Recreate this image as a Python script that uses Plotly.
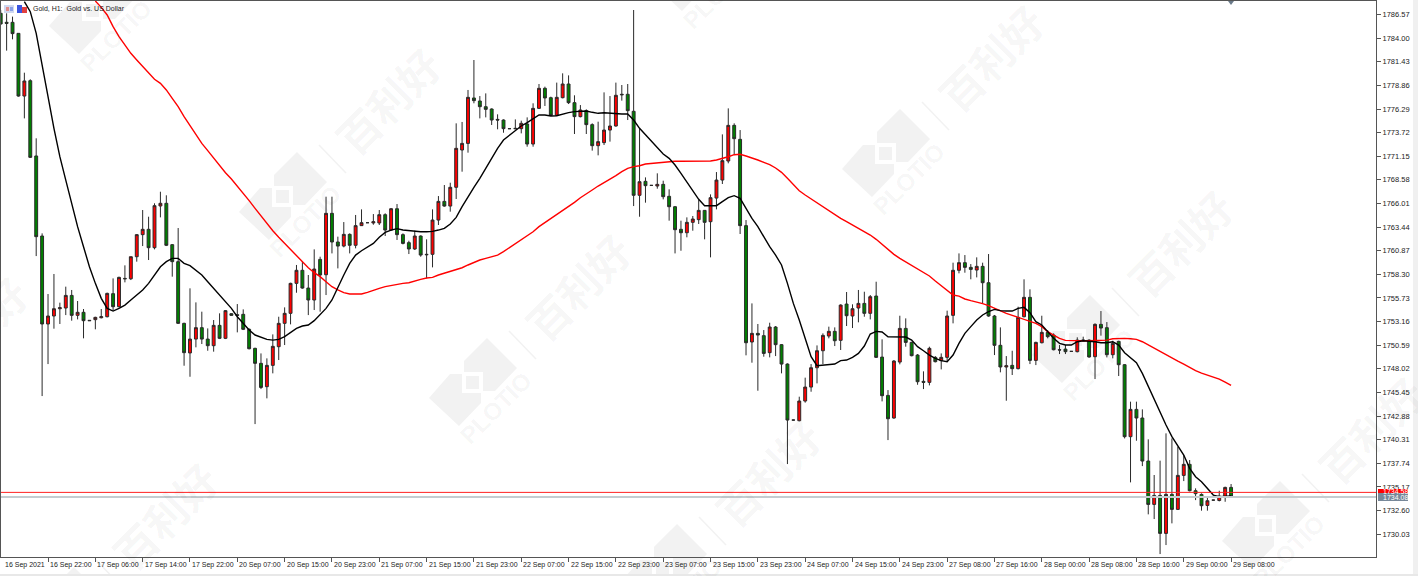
import plotly.graph_objects as go

bar_index = list(range(209))
opens = [
1786.70,1785.72,1785.72,1784.52,1777.70,1779.37,1771.18,1762.47,1752.90,1753.77,
1754.56,1754.64,1756.01,1753.84,1754.17,1753.30,1753.37,1753.58,1753.69,1756.20,
1754.78,1757.86,1757.82,1760.22,1762.62,1763.20,1761.20,1765.74,1766.03,1761.53,
1759.68,1752.97,1749.75,1751.26,1752.50,1751.26,1750.54,1752.75,1751.34,1754.02,
1753.91,1753.95,1752.32,1750.25,1748.62,1746.08,1748.40,1750.43,1752.97,1754.06,
1757.32,1758.74,1756.81,1755.51,1759.93,1758.26,1764.94,1761.82,1761.38,1762.65,
1761.46,1763.60,1763.92,1763.89,1763.89,1764.79,1763.12,1765.44,1762.62,1761.75,
1761.06,1762.47,1760.48,1760.48,1764.21,1766.24,1765.73,1767.77,1771.83,1772.55,
1777.49,1777.16,1776.54,1776.29,1775.16,1775.09,1774.15,1774.19,1774.15,1774.66,
1772.48,1776.36,1778.54,1777.52,1775.60,1777.52,1779.01,1776.98,1775.46,1776.11,
1774.59,1772.30,1772.63,1774.00,1774.44,1777.82,1777.89,1776.04,1766.90,1768.42,
1767.98,1767.91,1768.09,1766.79,1765.66,1763.20,1762.83,1763.96,1764.25,1765.26,
1764.03,1766.60,1768.56,1770.63,1774.51,1772.99,1763.60,1750.94,1751.88,1751.63,
1749.78,1752.57,1750.65,1748.54,1742.45,1742.38,1744.52,1746.04,1748.14,1749.99,
1751.59,1752.10,1751.12,1755.07,1753.77,1754.64,1755.14,1754.06,1755.94,1749.30,
1745.13,1742.67,1748.76,1752.42,1750.90,1749.52,1746.66,1746.55,1749.27,1748.91,
1749.27,1753.84,1758.74,1759.57,1759.06,1758.77,1759.17,1757.39,1753.77,1750.58,
1748.22,1748.40,1748.04,1753.69,1755.80,1748.94,1750.86,1751.99,1751.70,1750.10,
1750.17,1749.92,1749.89,1751.07,1751.15,1749.34,1752.86,1752.50,1749.56,1751.01,
1748.47,1740.64,1743.61,1742.67,1737.99,1733.27,1734.25,1730.12,1734.36,1732.73,
1736.43,1737.63,1734.76,1734.36,1733.16,1733.74,1733.70,1734.11,1735.12]
highs = [
1787.06,1786.70,1786.34,1784.52,1780.24,1779.52,1773.10,1762.76,1756.16,1758.34,
1755.22,1756.96,1756.60,1755.40,1754.53,1753.33,1753.69,1754.53,1756.31,1757.86,
1758.05,1759.28,1760.22,1762.69,1765.30,1764.57,1766.03,1767.29,1766.90,1761.60,
1763.34,1753.04,1756.78,1755.25,1754.24,1752.42,1753.33,1754.06,1754.42,1754.06,
1755.07,1754.49,1752.42,1750.32,1749.70,1749.16,1751.77,1753.69,1754.71,1757.39,
1759.32,1759.75,1758.23,1761.02,1760.22,1766.75,1766.75,1762.40,1763.99,1762.76,
1764.76,1765.37,1763.96,1764.86,1765.30,1764.94,1765.52,1765.95,1762.76,1761.96,
1763.05,1762.54,1762.11,1765.37,1766.82,1768.02,1768.27,1774.73,1774.88,1778.36,
1781.62,1777.70,1777.99,1776.36,1775.71,1775.16,1774.19,1775.16,1775.02,1775.38,
1776.91,1779.01,1778.72,1777.63,1779.16,1780.17,1779.95,1777.78,1776.72,1776.25,
1774.73,1774.91,1778.10,1777.70,1779.16,1778.90,1779.01,1787.06,1774.19,1768.85,
1768.02,1769.29,1768.49,1767.55,1765.74,1764.14,1764.50,1764.65,1766.39,1765.30,
1767.00,1769.43,1773.53,1776.36,1774.73,1774.00,1764.21,1755.14,1752.90,1752.24,
1753.04,1752.68,1750.72,1748.62,1742.49,1744.99,1747.06,1748.54,1750.57,1751.88,
1752.61,1752.53,1755.04,1756.38,1755.04,1756.60,1756.41,1756.05,1757.50,1751.23,
1745.71,1748.98,1753.80,1753.51,1750.97,1749.63,1747.75,1750.43,1749.41,1749.70,
1754.35,1759.57,1760.58,1760.40,1759.42,1760.15,1759.57,1760.51,1753.88,1752.53,
1749.41,1749.99,1754.78,1757.76,1756.67,1750.97,1753.80,1752.24,1751.88,1750.61,
1750.61,1749.96,1751.45,1751.52,1751.23,1752.97,1754.31,1753.11,1751.08,1751.08,
1748.54,1744.45,1744.45,1743.61,1740.35,1736.47,1738.03,1741.00,1740.45,1739.55,
1738.64,1738.10,1735.02,1734.47,1734.11,1733.78,1734.76,1735.20,1735.49]
lows = [
1785.43,1782.64,1783.87,1777.63,1775.27,1770.96,1760.29,1745.06,1748.54,1752.39,
1752.90,1753.87,1753.26,1753.40,1751.34,1753.26,1752.32,1753.51,1753.62,1754.42,
1754.71,1757.43,1757.68,1759.68,1761.38,1759.86,1761.02,1764.50,1761.38,1758.05,
1752.90,1748.36,1747.16,1750.36,1750.72,1749.99,1749.89,1751.26,1751.26,1753.80,
1751.99,1752.24,1750.14,1742.01,1745.82,1744.81,1747.53,1748.98,1750.61,1752.86,
1756.30,1756.74,1753.87,1754.42,1754.24,1756.05,1760.58,1758.95,1761.24,1760.58,
1761.13,1763.56,1763.89,1763.70,1763.67,1762.47,1763.05,1762.04,1761.56,1760.51,
1760.95,1760.22,1757.86,1759.06,1763.67,1765.66,1765.12,1766.50,1769.47,1771.54,
1776.91,1775.27,1775.38,1774.55,1774.08,1773.71,1774.11,1774.08,1773.64,1772.19,
1772.19,1776.29,1776.62,1775.53,1775.53,1777.45,1776.83,1773.57,1775.38,1773.57,
1771.76,1771.25,1772.37,1772.74,1774.37,1777.20,1775.09,1765.73,1764.57,1766.10,
1767.95,1767.62,1766.46,1764.14,1760.58,1760.87,1762.33,1763.05,1763.78,1762.11,
1760.15,1765.37,1768.13,1770.38,1771.28,1762.69,1749.49,1748.69,1745.64,1749.34,
1749.27,1749.41,1747.53,1737.66,1742.41,1742.31,1744.34,1745.53,1746.44,1748.54,
1751.34,1750.50,1750.07,1752.68,1752.46,1753.08,1753.69,1753.40,1749.20,1744.48,
1740.27,1742.59,1748.51,1750.43,1749.38,1746.29,1745.82,1746.22,1748.72,1747.96,
1748.76,1752.97,1758.41,1758.48,1757.76,1757.97,1755.14,1753.69,1749.52,1747.64,
1744.55,1747.35,1747.96,1753.62,1748.54,1748.43,1750.79,1751.34,1750.03,1749.63,
1749.63,1749.89,1749.81,1751.04,1749.23,1746.91,1751.63,1749.27,1749.16,1747.24,
1740.45,1735.67,1740.20,1737.44,1732.19,1731.68,1727.87,1728.85,1731.21,1732.66,
1735.81,1734.69,1733.74,1732.59,1732.59,1733.70,1733.60,1733.56,1734.04]
closes = [
1785.54,1785.61,1784.49,1777.70,1779.34,1771.03,1762.40,1752.90,1753.77,1754.56,
1754.67,1756.01,1753.84,1754.17,1753.26,1753.26,1753.62,1753.69,1756.23,1754.78,
1757.97,1757.82,1760.22,1762.62,1763.20,1761.20,1765.77,1766.03,1761.46,1759.68,
1752.97,1749.78,1751.26,1752.50,1751.26,1750.54,1752.75,1751.34,1754.35,1753.84,
1753.84,1752.32,1750.21,1748.62,1746.00,1748.40,1750.47,1752.97,1754.06,1757.32,
1758.74,1756.81,1755.51,1758.88,1758.23,1764.94,1761.82,1761.38,1762.65,1761.46,
1763.60,1763.92,1763.92,1764.03,1764.79,1763.12,1765.44,1762.62,1761.67,1761.06,
1762.47,1760.40,1760.44,1764.21,1766.24,1765.73,1767.77,1772.01,1772.55,1777.56,
1777.20,1776.54,1776.25,1775.09,1775.09,1774.15,1774.15,1774.15,1774.73,1772.48,
1776.36,1778.54,1777.49,1775.60,1777.56,1779.01,1776.98,1775.46,1776.18,1774.59,
1772.30,1772.74,1774.00,1774.44,1777.78,1777.88,1776.11,1766.90,1768.38,1767.95,
1767.98,1768.09,1766.75,1765.66,1763.16,1762.83,1763.96,1764.32,1765.26,1763.96,
1766.64,1768.56,1770.67,1774.51,1773.06,1763.60,1750.86,1751.88,1751.70,1749.70,
1752.57,1750.65,1748.54,1742.45,1742.45,1744.52,1746.04,1748.14,1749.99,1751.66,
1752.10,1751.08,1754.96,1753.80,1754.56,1755.14,1754.06,1755.87,1749.27,1745.10,
1742.59,1748.87,1752.42,1750.90,1749.45,1746.62,1746.55,1750.25,1748.80,1749.27,
1753.77,1758.74,1759.57,1759.06,1758.84,1759.17,1757.39,1753.77,1750.58,1748.22,
1748.36,1748.04,1753.62,1755.80,1748.94,1750.90,1751.99,1751.52,1750.10,1750.07,
1749.89,1749.92,1751.15,1751.15,1749.31,1752.86,1752.46,1749.56,1750.79,1748.47,
1740.64,1743.61,1742.67,1737.99,1733.27,1734.25,1730.12,1734.36,1732.73,1736.43,
1737.63,1734.76,1734.44,1733.13,1733.67,1733.74,1734.18,1735.12,1734.11]

fast_ma_start = 4
fast_ma = [
1787.97,1786.88,1784.52,1781.26,1777.63,1774.19,1771.10,1768.56,1766.03,1763.49,1761.31,
1759.13,1757.32,1755.69,1754.60,1754.31,1754.60,1754.96,1755.51,1756.05,1756.60,
1757.32,1758.23,1759.13,1759.68,1760.04,1760.04,1759.50,1759.24,1758.77,1758.23,
1757.50,1756.78,1756.05,1755.33,1754.60,1753.69,1752.97,1752.24,1751.70,1751.45,
1751.23,1751.15,1751.23,1751.52,1751.95,1752.42,1752.68,1752.79,1753.26,1753.88,
1754.60,1755.51,1756.96,1758.23,1759.50,1760.40,1760.87,1761.24,1761.67,1762.33,
1762.87,1763.12,1763.27,1763.12,1763.05,1763.05,1762.94,1762.94,1762.98,1763.12,
1763.30,1763.78,1764.50,1765.66,1766.75,1767.77,1768.75,1769.83,1770.92,1772.01,
1772.92,1773.46,1773.93,1774.44,1774.80,1775.27,1775.64,1775.64,1775.53,1775.56,
1775.75,1775.89,1776.00,1776.07,1776.07,1775.93,1775.82,1775.89,1775.82,1775.75,
1775.75,1775.75,1775.09,1774.19,1773.46,1772.74,1772.01,1771.39,1770.92,1770.20,
1769.29,1768.38,1767.48,1766.46,1765.77,1765.77,1765.77,1766.21,1766.64,1766.86,
1766.57,1765.48,1764.39,1763.49,1762.40,1761.31,1760.40,1759.32,1757.32,1755.14,
1753.33,1751.34,1749.34,1748.36,1748.43,1748.54,1748.54,1748.91,1748.98,1749.27,
1749.70,1750.50,1751.81,1752.10,1752.03,1751.52,1751.52,1751.52,1751.48,1751.15,
1750.43,1749.99,1749.52,1749.16,1748.91,1748.80,1749.52,1750.79,1751.88,1752.61,
1753.33,1753.88,1754.24,1754.49,1754.35,1754.31,1754.31,1754.60,1754.71,1754.13,
1753.15,1752.79,1752.06,1751.34,1750.79,1750.61,1750.61,1750.97,1751.08,1751.05,
1750.97,1750.86,1750.86,1750.97,1750.61,1749.78,1749.27,1748.69,1747.53,1746.08,
1744.63,1743.18,1741.91,1740.64,1739.66,1738.64,1737.19,1736.28,1735.74,1735.01,
1734.29,1734.11,1734.15,1734.18]

slow_ma_start = 16
slow_ma = [
1788.04,1787.35,1786.52,1785.25,1784.16,1783.25,1782.35,1781.62,1780.90,1780.17,
1779.52,1779.08,1778.36,1777.45,1776.54,1775.46,1774.44,1773.46,1772.55,1771.76,
1770.92,1770.09,1769.36,1768.67,1767.91,1767.11,1766.32,1765.48,1764.65,1763.78,
1763.05,1762.33,1761.67,1761.02,1760.33,1759.68,1759.02,1758.48,1758.05,1757.50,
1756.96,1756.60,1756.31,1756.16,1756.16,1756.16,1756.34,1756.60,1756.78,1756.96,
1757.10,1757.21,1757.32,1757.39,1757.61,1757.76,1757.90,1757.97,1758.23,1758.41,
1758.63,1758.84,1759.02,1759.32,1759.61,1759.86,1760.04,1760.22,1760.40,1760.77,
1761.20,1761.67,1762.11,1762.47,1762.94,1763.49,1763.92,1764.39,1764.76,1765.23,
1765.66,1766.13,1766.64,1767.11,1767.48,1767.91,1768.27,1768.64,1769.04,1769.47,
1769.83,1770.02,1770.12,1770.31,1770.38,1770.45,1770.52,1770.56,1770.60,1770.60,
1770.60,1770.60,1770.60,1770.60,1770.63,1770.74,1770.89,1771.10,1771.32,1771.36,
1771.18,1771.00,1770.74,1770.49,1770.23,1769.87,1769.40,1768.75,1768.02,1767.40,
1766.93,1766.50,1766.03,1765.59,1765.19,1764.76,1764.39,1764.03,1763.67,1763.30,
1762.94,1762.58,1762.11,1761.57,1760.95,1760.48,1760.04,1759.64,1759.24,1758.88,
1758.48,1758.12,1757.57,1757.07,1756.49,1756.05,1755.94,1755.62,1755.44,1755.29,
1755.11,1754.89,1754.60,1754.35,1754.06,1753.84,1753.62,1753.44,1753.15,1752.97,
1752.61,1752.06,1751.70,1751.34,1751.12,1751.08,1751.08,1751.08,1751.08,1751.12,
1751.12,1751.15,1751.30,1751.34,1751.34,1751.30,1751.23,1750.97,1750.61,1750.25,
1749.89,1749.52,1749.16,1748.87,1748.54,1748.18,1747.82,1747.56,1747.35,1747.17,
1746.91,1746.58,1746.22]

bid_price = 1734.58
ask_price = 1734.08
price_ticks = [1786.57,1784.00,1781.43,1778.86,1776.29,1773.72,1771.15,1768.58,1766.01,
               1763.44,1760.87,1758.30,1755.73,1753.16,1750.59,1748.02,1745.45,1742.88,
               1740.31,1737.74,1735.17,1732.60,1730.03]
time_tick_bars = list(range(0, 209, 8))
time_tick_labels = ["16 Sep 2021","16 Sep 22:00","17 Sep 06:00","17 Sep 14:00","17 Sep 22:00",
    "20 Sep 07:00","20 Sep 15:00","20 Sep 23:00","21 Sep 07:00","21 Sep 15:00","21 Sep 23:00",
    "22 Sep 07:00","22 Sep 15:00","22 Sep 23:00","23 Sep 07:00","23 Sep 15:00","23 Sep 23:00",
    "24 Sep 07:00","24 Sep 15:00","24 Sep 23:00","27 Sep 08:00","27 Sep 16:00","28 Sep 00:00",
    "28 Sep 08:00","28 Sep 16:00","29 Sep 00:00","29 Sep 08:00"]

W, H = 1418, 576
L, R, T, B = 1, 1376, 1, 557
X_RANGE = [0.05, 232.5]
def xp(px): return (px - L) / (R - L)
def yp(py): return 1 - (py - T) / (B - T)

fig = go.Figure()
fig.add_trace(go.Candlestick(
    x=bar_index, open=opens, high=highs, low=lows, close=closes,
    increasing=dict(fillcolor="#ff0000", line=dict(color="#2a2a2a", width=1)),
    decreasing=dict(fillcolor="#008000", line=dict(color="#2a2a2a", width=1)),
    whiskerwidth=0, showlegend=False, hoverinfo="skip"))
fig.add_trace(go.Scatter(x=list(range(slow_ma_start, slow_ma_start + len(slow_ma))), y=slow_ma,
    mode="lines", line=dict(color="#ff0000", width=1.4), showlegend=False, hoverinfo="skip"))
fig.add_trace(go.Scatter(x=list(range(fast_ma_start, fast_ma_start + len(fast_ma))), y=fast_ma,
    mode="lines", line=dict(color="#000000", width=1.4), showlegend=False, hoverinfo="skip"))

shapes, ann = [], []
WM = "#f2f2f2"
def poly(cx, cy, pts, fill, layer="below"):
    d = "M " + " L ".join(f"{xp(cx+a):.5f} {yp(cy+b):.5f}" for a, b in pts) + " Z"
    shapes.append(dict(type="path", xref="paper", yref="paper", path=d, fillcolor=fill,
                       line=dict(width=0), layer=layer))
def note(px, py, text, **kw):
    ann.append(dict(x=xp(px), y=yp(py), xref="paper", yref="paper", text=text, showarrow=False,
                    xanchor=kw.pop("xanchor", "center"), yanchor="middle", **kw))
logo_outline = [(15,-43),(-8,-20),(-8,-7),(-22,-7),(-43,17),(-13,45),(9,22),(9,10),(23,10),(45,-13)]
ring = [(-10,-9),(11,-9),(11,12),(-10,12)]
core = [(-6,-5),(7,-5),(7,8),(-6,8)]
a = (603, -43); b = (190, 186); origin = (282, 195)
for m in range(-2, 3):
    for n in range(-3, 5):
        cx = origin[0] + m*a[0] + n*b[0]
        cy = origin[1] + m*a[1] + n*b[1]
        if -200 < cx < W + 200 and -200 < cy < H + 200:
            poly(cx, cy, logo_outline, WM)
            poly(cx, cy, ring, "#ffffff")
            poly(cx, cy, core, WM)
            shapes.append(dict(type="line", xref="paper", yref="paper", layer="below",
                x0=xp(cx+37), y0=yp(cy-50), x1=xp(cx+64), y1=yp(cy-22),
                line=dict(color=WM, width=1.5)))
            if -40 < cx + 23 < W + 40 and -40 < cy + 27 < H + 40:
                note(cx+23, cy+27, "<b>PLOTIO</b>", textangle=-45,
                     font=dict(family="Liberation Sans", size=24, color="rgba(0,0,0,0.05)"))
            if -60 < cx + 105 < W + 60 and -60 < cy - 95 < H + 60:
                note(cx+105, cy-95, "<b>百利好</b>", textangle=-45,
                     font=dict(family="Noto Sans CJK SC", size=42, color="rgba(0,0,0,0.05)"))

# price lines
shapes.append(dict(type="line", xref="paper", yref="y", x0=0, x1=1, y0=ask_price, y1=ask_price,
                   line=dict(color="#c4ccd0", width=2)))
shapes.append(dict(type="line", xref="paper", yref="y", x0=0, x1=1, y0=bid_price, y1=bid_price,
                   line=dict(color="#ff2020", width=1)))
# price labels
poly(0, 0, [(1378,489),(1408,489),(1408,494),(1378,494)], "#ff0000", "above")
poly(0, 0, [(1378,493),(1408,493),(1408,501),(1378,501)], "#778899", "above")
note(1381, 491.3, "1734.58", xanchor="left", font=dict(family="Liberation Sans", size=7, color="#ffffff"))
note(1381, 497, "1734.08", xanchor="left", font=dict(family="Liberation Sans", size=7, color="#ffffff"))
# window icons
poly(0, 0, [(4,5),(14,5),(14,13),(4,13)], "#cfd8f0", "above")
poly(0, 0, [(6,7),(9,7),(9,11),(6,11)], "#e08a8a", "above")
poly(0, 0, [(10,7),(13,7),(13,11),(10,11)], "#8aa0e8", "above")
poly(0, 0, [(17,5),(22,5),(22,13),(17,13)], "#3a55e0", "above")
poly(0, 0, [(22,7),(27,7),(27,13),(22,13)], "#e04040", "above")
# current bar marker at the top
poly(0, 0, [(1228,1),(1234,1),(1231,5)], "#6a7a8a", "above")
# thin window edges
poly(0, 0, [(1413,0),(1418,0),(1418,576),(1413,576)], "#f0f0f0", "above")
poly(0, 0, [(0,574),(1418,574),(1418,576),(0,576)], "#e8e8e8", "above")

note(31, 8.5, "Gold, H1:  Gold vs. US Dollar", xanchor="left",
     font=dict(family="Liberation Sans", size=7, color="#222222"))
for bar, lab in zip(time_tick_bars, time_tick_labels):
    ann.append(dict(x=(bar - X_RANGE[0]) / (X_RANGE[1] - X_RANGE[0]) + (2.5 if bar == 0 else 0) / (R - L),
                    y=yp(564.5), xref="paper", yref="paper", xanchor="left", yanchor="middle", text=lab,
                    showarrow=False, font=dict(family="Liberation Sans", size=7, color="#222222")))

fig.update_layout(
    width=W, height=H, margin=dict(l=L, r=W-R, t=T, b=H-B, pad=0),
    paper_bgcolor="#ffffff", plot_bgcolor="rgba(0,0,0,0)",
    shapes=shapes, annotations=ann, showlegend=False, dragmode=False,
    xaxis=dict(range=X_RANGE, rangeslider=dict(visible=False), showgrid=False, zeroline=False,
               tickmode="array", tickvals=time_tick_bars, showticklabels=False, ticks="outside",
               ticklen=4, tickwidth=1, tickcolor="#555555", showline=True, mirror=True,
               linecolor="#555555", linewidth=1),
    yaxis=dict(range=[1727.55, 1788.04], side="right", showgrid=False, zeroline=False,
               tickmode="array", tickvals=price_ticks, ticktext=[f"{v:.2f}" for v in price_ticks],
               ticks="outside", ticklen=4, tickwidth=1, tickcolor="#555555", showline=True, mirror=True,
               linecolor="#555555", linewidth=1,
               tickfont=dict(family="Liberation Sans", size=7.5, color="#222222")),
)
fig.write_html("out.html", config=dict(displayModeBar=False, responsive=False),
               post_script="document.body.style.margin='0';document.documentElement.style.overflow='hidden';")
